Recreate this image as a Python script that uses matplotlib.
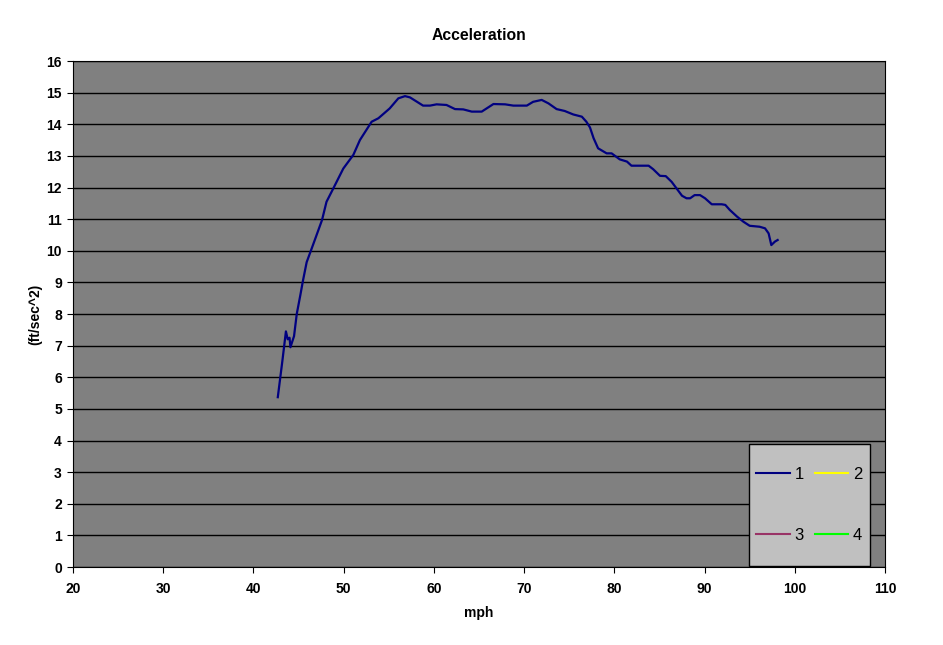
import matplotlib.pyplot as plt
from matplotlib.lines import Line2D
from matplotlib.path import Path

# Data
mph = [42.7, 43.2, 43.6, 43.8, 44.0, 44.1, 44.5, 44.8, 45.2, 45.5, 45.9,
       46.3, 46.8, 47.6, 48.1, 48.85, 49.96, 51.07, 51.8, 53.1, 53.85,
       55.1, 56.06, 56.8, 57.35, 58.8, 59.57, 60.3, 61.4, 62.34, 63.26,
       64.2, 65.3, 66.6, 67.9, 68.8, 70.3, 71.0, 71.95, 72.7, 73.6, 74.5,
       75.45, 76.4, 76.9, 77.3, 77.7, 78.2, 79.15, 79.7, 80.6, 81.4, 81.9,
       83.8, 84.3, 85.06, 85.7, 86.35, 86.9, 87.5, 88.0, 88.4, 88.9, 89.5,
       90.05, 90.8, 91.9, 92.3, 92.8, 93.6, 94.3, 95.0, 96.1, 96.7, 97.1,
       97.4, 97.8, 98.1]
accel = [5.37, 6.5, 7.45, 7.2, 7.25, 6.95, 7.3, 8.0, 8.6, 9.07, 9.64,
         9.95, 10.34, 10.97, 11.55, 11.97, 12.6, 13.03, 13.5, 14.08, 14.19,
         14.5, 14.82, 14.89, 14.85, 14.59, 14.59, 14.63, 14.61, 14.48, 14.47,
         14.4, 14.4, 14.64, 14.63, 14.59, 14.59, 14.71, 14.77, 14.66, 14.48, 14.42,
         14.31, 14.24, 14.08, 13.9, 13.56, 13.24, 13.08, 13.08, 12.89, 12.82, 12.69,
         12.69, 12.58, 12.37, 12.36, 12.18, 11.97, 11.74, 11.66, 11.66, 11.76, 11.76,
         11.66, 11.47, 11.47, 11.45, 11.29, 11.08, 10.92, 10.79, 10.76, 10.71, 10.55,
         10.18, 10.29, 10.34]

legend_labels = ["1", "2", "3", "4"]
legend_colors = ["#000080", "#FFFF00", "#993366", "#00FF00"]

plt.rcParams['font.family'] = ['Liberation Sans', 'DejaVu Sans']

fig = plt.figure(figsize=(9.43, 6.45), dpi=100)
ax = fig.add_axes([0.0774, 0.1209, 0.8611, 0.7845])
ax.set_facecolor('#808080')

ax.plot(mph, accel, color='#000080', linewidth=1.6)

ax.set_xlim(20, 110)
ax.set_ylim(0, 16)
ax.set_xticks(range(20, 111, 10))
ax.set_yticks(range(0, 17))
ax.yaxis.grid(True, color='black', linewidth=1)
ax.set_axisbelow(True)
for lab in ax.get_xticklabels() + ax.get_yticklabels():
    lab.set_fontweight('bold')
    lab.set_fontsize(10)
ax.tick_params(axis='both', direction='out', length=4, color='black')
ax.tick_params(axis='y', pad=4)
ax.tick_params(axis='x', pad=7)

ax.set_title('Acceleration', fontsize=11.3, fontweight='bold', pad=15)
ax.set_xlabel('mph', fontsize=10, fontweight='bold', labelpad=7)
ax.set_ylabel('(ft/sec^2)', fontsize=10, fontweight='bold', labelpad=3)

# legend fills column by column, so order handles 1,3,2,4 to get rows 1 2 / 3 4
order = [0, 2, 1, 3]
handles = [Line2D([0], [0], color=legend_colors[i], linewidth=1.5) for i in order]
labels = [legend_labels[i] for i in order]
leg = ax.legend(handles, labels, ncol=2, loc='lower right',
                bbox_to_anchor=(0.9815, 0.033), fontsize=12, frameon=True,
                fancybox=False, framealpha=1, facecolor='#C0C0C0',
                edgecolor='black', handlelength=2.0,
                handletextpad=0.3, columnspacing=0.65, labelspacing=2.75,
                borderpad=0.45, borderaxespad=0)
leg.get_frame().set_linewidth(1)


# legend box is taller than wide padding allows: extra room above and below only
def tall_box(x0, y0, width, height, mutation_size):
    p = 0.95 * mutation_size
    return Path([(x0, y0 - p), (x0 + width, y0 - p), (x0 + width, y0 + height + p),
                 (x0, y0 + height + p), (x0, y0 - p)], closed=True)


leg.legendPatch.set_boxstyle(tall_box)

fig.savefig('out.png', dpi=100)
